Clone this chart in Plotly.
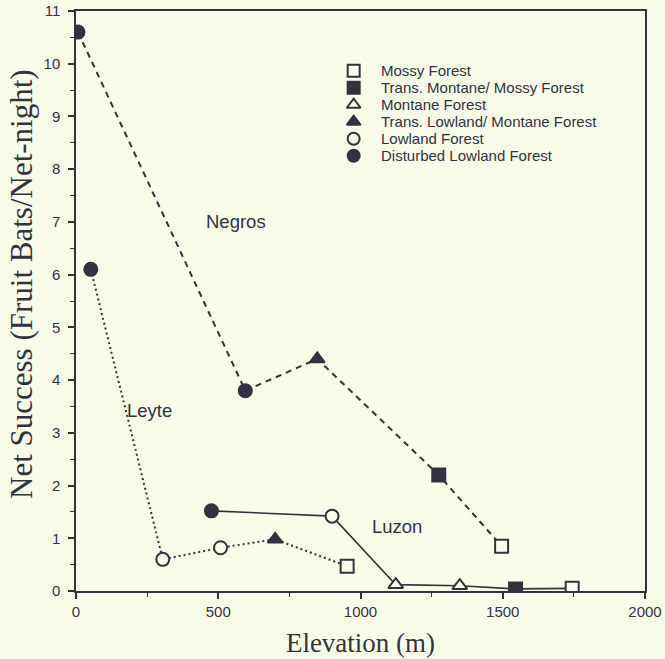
import plotly.graph_objects as go

# Elevation (m), net success (fruit bats per net-night) and forest type per site
negros_elev = [7, 595, 848, 1275, 1496]
negros_succ = [10.6, 3.8, 4.4, 2.2, 0.85]
negros_type = ["Disturbed Lowland Forest", "Disturbed Lowland Forest",
               "Trans. Lowland/ Montane Forest", "Trans. Montane/ Mossy Forest",
               "Mossy Forest"]

leyte_elev = [52, 305, 508, 700, 953]
leyte_succ = [6.1, 0.6, 0.82, 0.98, 0.47]
leyte_type = ["Disturbed Lowland Forest", "Lowland Forest", "Lowland Forest",
              "Trans. Lowland/ Montane Forest", "Mossy Forest"]

luzon_elev = [476, 900, 1124, 1349, 1545, 1744]
luzon_succ = [1.52, 1.42, 0.12, 0.1, 0.04, 0.05]
luzon_type = ["Disturbed Lowland Forest", "Lowland Forest", "Montane Forest",
              "Montane Forest", "Trans. Montane/ Mossy Forest", "Mossy Forest"]

forest_types = ["Mossy Forest", "Trans. Montane/ Mossy Forest", "Montane Forest",
                "Trans. Lowland/ Montane Forest", "Lowland Forest",
                "Disturbed Lowland Forest"]

island_names = ["Negros", "Leyte", "Luzon"]
label_x = [562, 258, 1128]
label_y = [7.0, 3.43, 1.22]

BG = "#FAFCEA"
INK = "#33333F"
SANS = "Liberation Sans, Arial, Helvetica"
SERIF = "Liberation Serif, Times New Roman, serif"

# symbol, filled?
style = {
    "Mossy Forest": ("square", False),
    "Trans. Montane/ Mossy Forest": ("square", True),
    "Montane Forest": ("triangle-up", False),
    "Trans. Lowland/ Montane Forest": ("triangle-up", True),
    "Lowland Forest": ("circle", False),
    "Disturbed Lowland Forest": ("circle", True),
}


def marker_for(types, size=13):
    return dict(
        symbol=[style[t][0] for t in types],
        color=[INK if style[t][1] else BG for t in types],
        size=size,
        line=dict(color=INK, width=2),
    )


fig = go.Figure()

series = [
    (negros_elev, negros_succ, negros_type, dict(dash="6px,5px", width=2)),
    (leyte_elev, leyte_succ, leyte_type, dict(dash="2px,3px", width=2)),
    (luzon_elev, luzon_succ, luzon_type, dict(dash="solid", width=1.6)),
]
for xs, ys, ts, ln in series:
    fig.add_trace(go.Scatter(
        x=xs, y=ys, mode="lines+markers",
        line=dict(color=INK, **ln),
        marker=marker_for(ts),
        showlegend=False, hoverinfo="skip",
    ))

for name, lx, ly in zip(island_names, label_x, label_y):
    fig.add_annotation(x=lx, y=ly, text=name, showarrow=False,
                       font=dict(family=SANS, size=18.5, color=INK))

# Key: symbols on a hidden overlay axis (0..1 in plot fractions), labels beside them
key_x = 0.488
key_top = 0.897
key_step = 17 / 580
key_rows = list(range(len(forest_types)))
key_y = [key_top - i * key_step for i in key_rows]
fig.add_trace(go.Scatter(
    x=[key_x] * len(forest_types), y=key_y, mode="markers",
    marker=marker_for(forest_types, size=12),
    xaxis="x2", yaxis="y2", showlegend=False, hoverinfo="skip",
))
for t, ky in zip(forest_types, key_y):
    fig.add_annotation(x=key_x + 0.044, y=ky, xref="x2", yref="y2", text=t,
                       showarrow=False, xanchor="left", yanchor="middle",
                       font=dict(family=SANS, size=15, color=INK))

axis_common = dict(
    showgrid=False, zeroline=False, showline=True, linecolor=INK, linewidth=1.5,
    mirror=True, ticks="outside", ticklen=6, tickwidth=1.5, tickcolor=INK,
    tickfont=dict(family=SANS, size=15, color=INK), automargin=False,
)

fig.update_xaxes(
    range=[0, 2000], tickvals=[0, 500, 1000, 1500, 2000],
    minor=dict(tickvals=[250, 750, 1250, 1750], ticks="outside", ticklen=4,
               tickcolor=INK, tickwidth=1.2),
    title=dict(text="Elevation (m)", standoff=14,
               font=dict(family=SERIF, size=27, color=INK)),
    **axis_common,
)
fig.update_yaxes(
    range=[0, 11], tickvals=list(range(0, 12)), ticklabelstandoff=5,
    minor=dict(tickvals=[i + 0.5 for i in range(11)], ticks="outside", ticklen=4,
               tickcolor=INK, tickwidth=1.2),
    **axis_common,
)

fig.add_annotation(
    x=-0.097, y=0.529, xref="paper", yref="paper", xanchor="center", yanchor="middle",
    text="Net Success (Fruit Bats/Net-night)", textangle=-90, showarrow=False,
    font=dict(family=SERIF, size=31, color=INK),
)

fig.update_layout(
    width=665, height=659,
    margin=dict(l=76, r=20, t=11, b=68),
    paper_bgcolor=BG, plot_bgcolor=BG,
    showlegend=False,
    xaxis2=dict(overlaying="x", range=[0, 1], visible=False, fixedrange=True),
    yaxis2=dict(overlaying="y", range=[0, 1], visible=False, fixedrange=True),
)

fig.write_html("out.html")
